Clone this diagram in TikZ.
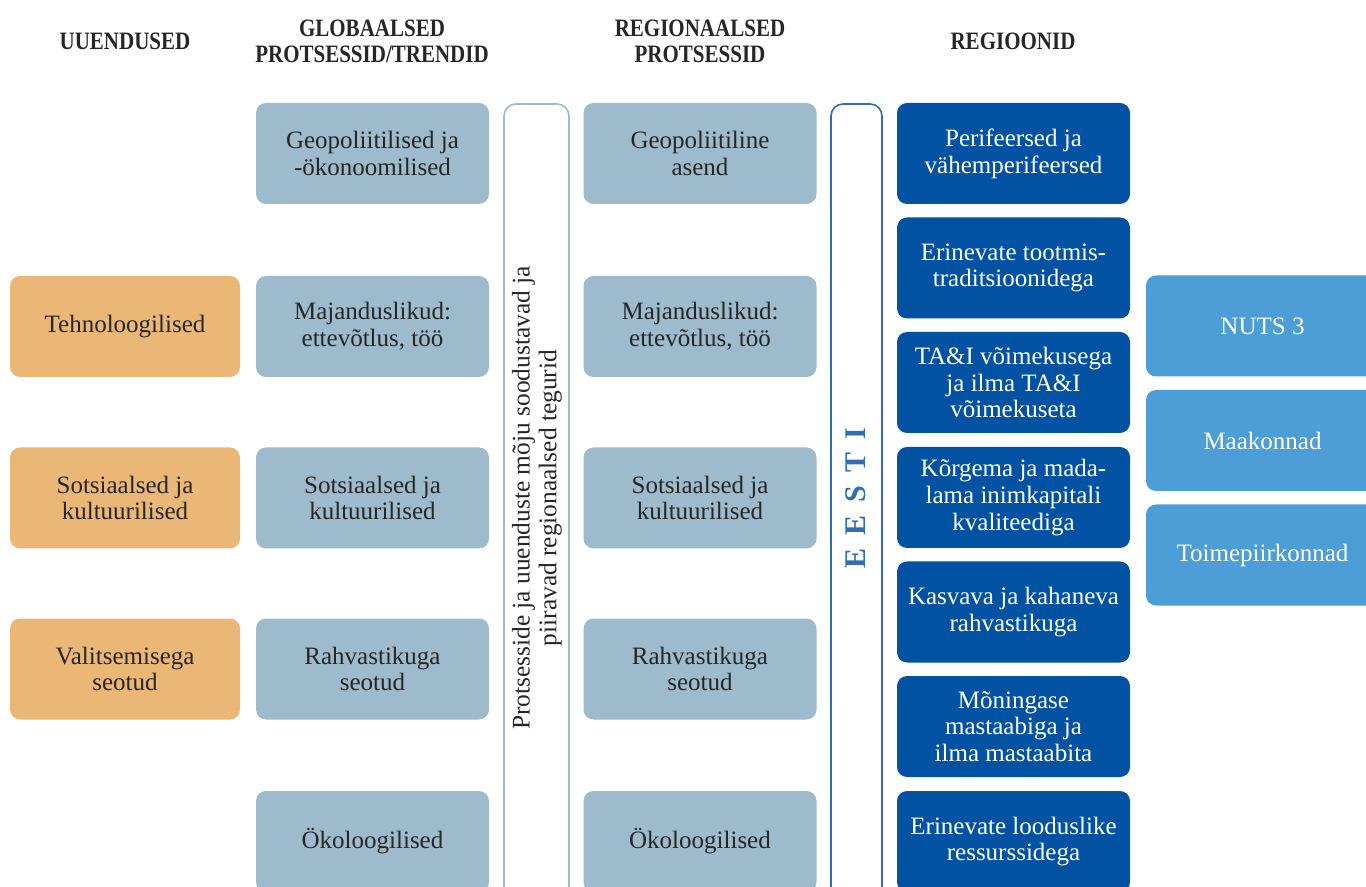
\documentclass[tikz,border=0pt]{standalone}
\usepackage{fontspec}
\setmainfont{Liberation Serif}
\newfontfamily\headfont{Liberation Serif}[FakeStretch=0.84]

\definecolor{oranz}{HTML}{EBB777}
\definecolor{hall}{HTML}{9DBBCD}
\definecolor{tumesinine}{HTML}{0252A3}
\definecolor{helesinine}{HTML}{4D9ED6}
\definecolor{raam}{HTML}{2F6DB4}
\definecolor{tekst}{HTML}{262626}

\tikzset{
  kast/.style={rounded corners=5pt, align=center, inner sep=2pt,
    minimum width=116.5pt, minimum height=50.5pt,
    font=\fontsize{12.5}{13.4}\selectfont},
  uuendus/.style={kast, fill=oranz, text=tekst, minimum width=115pt},
  protsess/.style={kast, fill=hall, text=tekst},
  regioon/.style={kast, fill=tumesinine, text=white},
  tasand/.style={kast, fill=helesinine, text=white},
  pealkiri/.style={font=\headfont\bfseries\fontsize{12.5}{13}\selectfont,
    align=center, text=tekst},
}

\begin{document}
\begin{tikzpicture}[x=0.5pt, y=-0.5pt]% pikslid
\useasboundingbox (0,0) rectangle (1366,887);

% pealkirjad
\node[pealkiri] (p1) at (125,41) {UUENDUSED};
\node[pealkiri] (p2) at (372,41) {GLOBAALSED\\PROTSESSID/TRENDID};
\node[pealkiri] (p3) at (700,41) {REGIONAALSED\\PROTSESSID};
\node[pealkiri] (p4) at (1013,41) {REGIOONID};

% uuendused
\node[uuendus] (u1) at (125,326.5) {Tehnoloogilised};
\node[uuendus] (u2) at (125,498) {Sotsiaalsed ja\\kultuurilised};
\node[uuendus] (u3) at (125,669) {Valitsemisega\\seotud};

% globaalsed protsessid
\node[protsess] (g1) at (372.5,153.5) {Geopoliitilised ja\\-ökonoomilised};
\node[protsess] (g2) at (372.5,326.5) {Majanduslikud:\\ettevõtlus, töö};
\node[protsess] (g3) at (372.5,498) {Sotsiaalsed ja\\kultuurilised};
\node[protsess] (g4) at (372.5,669) {Rahvastikuga\\seotud};
\node[protsess] (g5) at (372.5,841.5) {Ökoloogilised};

% tegurid
\draw[hall, line width=0.8pt, rounded corners=6pt] (504,104) rectangle (569,905);
\node[rotate=90, align=center, text=tekst, font=\fontsize{12.7}{13.4}\selectfont]
  (tegurid) at (537,498) {Protsesside ja uuenduste mõju soodustavad ja\\piiravad regionaalsed tegurid};

% regionaalsed protsessid
\node[protsess] (r1) at (700,153.5) {Geopoliitiline\\asend};
\node[protsess] (r2) at (700,326.5) {Majanduslikud:\\ettevõtlus, töö};
\node[protsess] (r3) at (700,498) {Sotsiaalsed ja\\kultuurilised};
\node[protsess] (r4) at (700,669) {Rahvastikuga\\seotud};
\node[protsess] (r5) at (700,841.5) {Ökoloogilised};

% Eesti
\draw[raam, line width=0.8pt, rounded corners=6pt] (831,104) rectangle (882,905);
\node[rotate=90, text=raam, font=\bfseries\fontsize{15}{16}\selectfont]
  (eesti) at (856,498) {E\hspace{6.5pt}E\hspace{6.5pt}S\hspace{6.5pt}T\hspace{6.5pt}I};

% regioonid
\node[regioon] (re1) at (1013.5,153.5) {Perifeersed ja\\vähemperifeersed};
\node[regioon] (re2) at (1013.5,268) {Erinevate tootmis-\\traditsioonidega};
\node[regioon] (re3) at (1013.5,382.5) {TA\&I võimekusega\\ja ilma TA\&I\\võimekuseta};
\node[regioon] (re4) at (1013.5,497.5) {Kõrgema ja mada-\\lama inimkapitali\\kvaliteediga};
\node[regioon] (re5) at (1013.5,612) {Kasvava ja kahaneva\\rahvastikuga};
\node[regioon] (re6) at (1013.5,726.5) {Mõningase\\mastaabiga ja\\ilma mastaabita};
\node[regioon] (re7) at (1013.5,841.5) {Erinevate looduslike\\ressurssidega};

% tasandid
\node[tasand] (t1) at (1262.5,326) {NUTS 3};
\node[tasand] (t2) at (1262.5,440.5) {Maakonnad};
\node[tasand] (t3) at (1262.5,555) {Toimepiirkonnad};

\end{tikzpicture}
\end{document}
